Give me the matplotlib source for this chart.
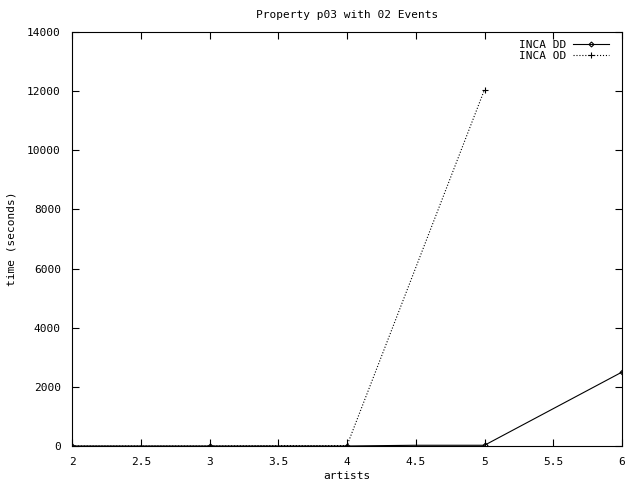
import matplotlib
matplotlib.use('Agg')
import matplotlib.pyplot as plt

plt.rcParams['font.family'] = ['DejaVu Sans Mono']

# data
dd_x = [2, 3, 4, 4.5, 5, 6]
dd_y = [0, 0, 0, 25, 25, 2500]
od_x = [2, 3, 3.5, 4, 5]
od_y = [0, 0, 15, 15, 12050]

x_ticks = [2, 2.5, 3, 3.5, 4, 4.5, 5, 5.5, 6]
x_labels = ['2', '2.5', '3', '3.5', '4', '4.5', '5', '5.5', '6']
y_ticks = [0, 2000, 4000, 6000, 8000, 10000, 12000, 14000]

fig = plt.figure(figsize=(6.4, 4.8), dpi=100)
ax = fig.add_axes([72 / 640, 34 / 480, 550 / 640, 414 / 480])

ax.plot(dd_x, dd_y, color='black', linewidth=0.8, marker='D', markersize=2.5,
        markerfacecolor='none', markeredgewidth=0.8, markevery=[0, 1, 2, 4, 5],
        label='INCA DD')
ax.plot(od_x, od_y, color='black', linewidth=0.8, linestyle=':', marker='+',
        markersize=5, markeredgewidth=0.8, markevery=[0, 1, 3, 4],
        label='INCA OD')

ax.set_xlim(2, 6)
ax.set_ylim(0, 14000)
ax.set_xticks(x_ticks)
ax.set_xticklabels(x_labels)
ax.set_yticks(y_ticks)
ax.tick_params(direction='in', top=True, right=True, length=5, width=0.8,
               labelsize=8, pad=8)
for s in ax.spines.values():
    s.set_linewidth(0.8)

ax.set_title('Property p03 with 02 Events', fontsize=8, pad=10)
ax.set_xlabel('artists', fontsize=8, labelpad=3)
ax.set_ylabel('time (seconds)', fontsize=8, labelpad=8)

ax.legend(loc='upper right', bbox_to_anchor=(0.99, 1.0), frameon=False,
          markerfirst=False, fontsize=8, handlelength=3.2, borderaxespad=0.3,
          labelspacing=0.1, handletextpad=0.6)

fig.savefig('out.png', dpi=100)
